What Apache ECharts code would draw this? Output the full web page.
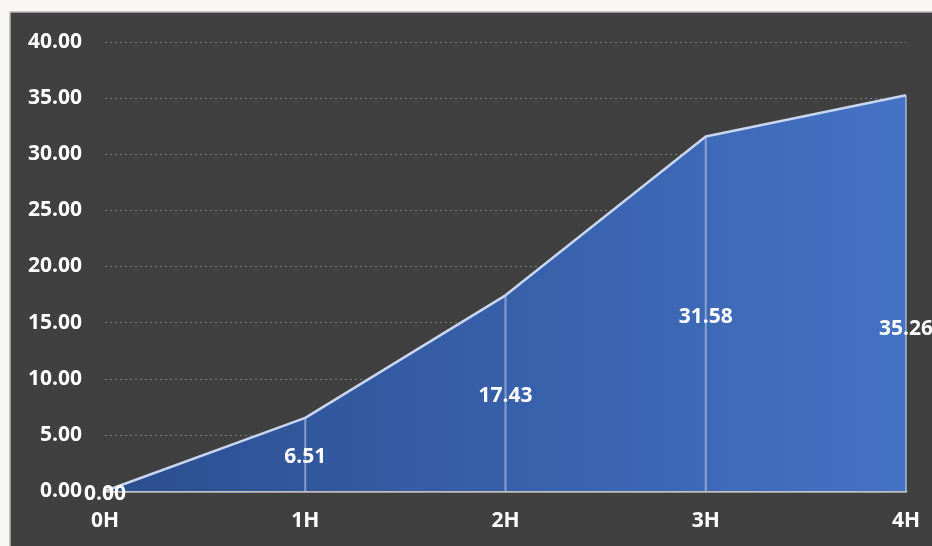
<!DOCTYPE html>
<html>
<head>
<meta charset="utf-8">
<script src="https://cdn.jsdelivr.net/npm/echarts@6/dist/echarts.min.js"></script>
<style>
html,body{margin:0;padding:0;background:#f8f7f3;}
#c{width:932px;height:546px;}
</style>
</head>
<body>
<div id="c"></div>
<script>
var categories = ['0H', '1H', '2H', '3H', '4H'];
var values = [0.00, 6.51, 17.43, 31.58, 35.26];
var yTicks = [0, 5, 10, 15, 20, 25, 30, 35, 40];

var chart = echarts.init(document.getElementById('c'), null, {renderer: 'canvas'});
var fontFam = '"Open Sans", "Noto Sans", sans-serif';

var labelData = values.map(function (v, i) {
  var item = {value: v};
  if (i === values.length - 1) {
    item.label = {offset: [0, 36]};
  }
  return item;
});

chart.setOption({
  backgroundColor: 'transparent',
  animation: false,
  graphic: [{
    type: 'rect',
    z: -10,
    shape: {x: 10, y: 12, width: 940, height: 560},
    style: {fill: '#404040', stroke: '#b4b4b4', lineWidth: 1.5}
  }],
  grid: {left: 105, right: 26, top: 42, bottom: 55, containLabel: false},
  xAxis: {
    type: 'category',
    data: categories,
    boundaryGap: false,
    axisLine: {show: true, lineStyle: {color: '#bfbfbf', width: 2.5}},
    axisTick: {show: false},
    splitLine: {show: false},
    axisLabel: {color: '#ffffff', fontWeight: 'bold', fontSize: 21, fontFamily: fontFam, margin: 20}
  },
  yAxis: {
    type: 'value',
    min: yTicks[0],
    max: yTicks[yTicks.length - 1],
    interval: 5,
    axisLine: {show: false},
    axisTick: {show: false},
    splitLine: {show: true, lineStyle: {color: '#7a7a7a', type: [2, 3], width: 1}},
    axisLabel: {
      color: '#ffffff', fontWeight: 'bold', fontSize: 21, fontFamily: fontFam, margin: 23,
      formatter: function (v) { return v.toFixed(2); }
    }
  },
  series: [{
    type: 'line',
    data: values,
    symbol: 'none',
    z: 2,
    lineStyle: {color: '#c8d6f0', width: 2.5},
    areaStyle: {
      opacity: 1,
      color: {
        type: 'linear', x: 0, y: 0, x2: 1, y2: 0,
        colorStops: [{offset: 0, color: '#2b4e90'}, {offset: 1, color: '#4472c4'}]
      }
    }
  }, {
    type: 'bar',
    data: labelData,
    barWidth: 2,
    z: 3,
    itemStyle: {color: 'rgba(200,214,240,0.55)'},
    label: {
      show: true,
      position: 'inside',
      offset: [0, 3],
      color: '#ffffff',
      fontWeight: 'bold',
      fontSize: 21,
      fontFamily: fontFam,
      formatter: function (p) { return p.value.toFixed(2); }
    }
  }]
});
</script>
</body>
</html>
